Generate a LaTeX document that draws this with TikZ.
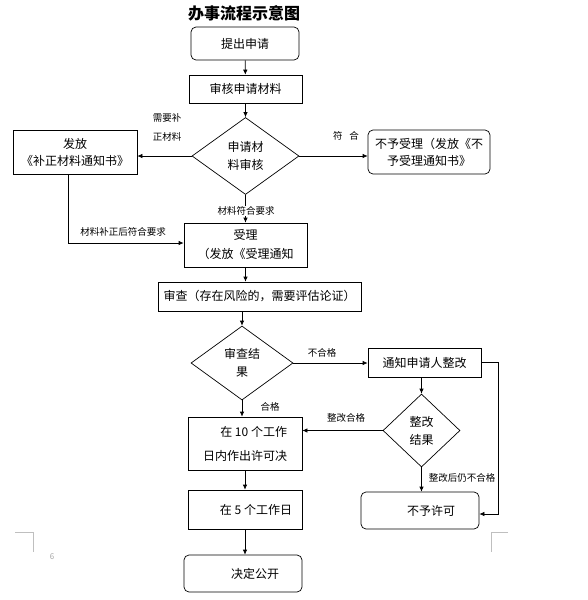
\documentclass[tikz,border=0pt]{standalone}
\usepackage{fontspec}
\setmainfont{Noto Sans CJK SC}
\usetikzlibrary{shapes.geometric, arrows.meta}

\begin{document}
\begin{tikzpicture}[x=1pt, y=-1pt,
    box/.style={draw, line width=0.7pt, align=center, inner sep=1pt, font=\fontsize{12}{18}\selectfont},
    rbox/.style={box, rounded corners=5pt},
    decision/.style={draw, diamond, line width=0.7pt, align=center, inner sep=0pt, font=\fontsize{12}{18}\selectfont},
    lbl/.style={font=\fontsize{9.5}{19}\selectfont, inner sep=0pt, align=left},
    arr/.style={-{Latex[length=5pt,width=4.5pt]}, line width=0.7pt}]
  \useasboundingbox (0,0) rectangle (588,600);
  % title
  \node[font=\fontsize{16}{18}\selectfont\bfseries] (title) at (244,13) {办事流程示意图};
  % main column
  \node[rbox, minimum width=108pt, minimum height=33pt] (apply) at (245,43.5) {提出申请};
  \node[box, minimum width=113pt, minimum height=28pt] (check) at (245.5,89) {审核申请材料};
  \node[decision, minimum width=107pt, minimum height=77pt] (audit) at (245.5,156) {申请材\\料审核};
  \node[box, minimum width=124pt, minimum height=44pt, font=\fontsize{12}{17}\selectfont] (supply) at (75,152) {发放\\《补正材料通知书》};
  \node[rbox, minimum width=122pt, minimum height=44pt, font=\fontsize{12}{17}\selectfont] (reject) at (429,152) {不予受理（发放《不\\予受理通知书》};
  \node[box, minimum width=123pt, minimum height=44pt, font=\fontsize{12}{19}\selectfont] (accept) at (245.5,245) {受理\\（发放《受理通知};
  \node[box, minimum width=203pt, minimum height=29pt] (review) at (259.5,296.5) {审查（存在风险的，需要评估论证）};
  \node[decision, minimum width=102pt, minimum height=74pt] (result) at (242,363) {审查结\\果};
  \node[box, minimum width=113pt, minimum height=29pt] (notify) at (424.5,362.5) {通知申请人整改};
  \node[decision, minimum width=77pt, minimum height=73pt] (fix) at (421.5,430.5) {整改\\结果};
  \node[box, minimum width=114pt, minimum height=53pt, align=right, font=\fontsize{12}{24}\selectfont] (decide) at (245,443.5) {在 10 个工作\\日内作出许可决};
  \node[rbox, minimum width=118pt, minimum height=37pt] (deny) at (420,510.5) {\hspace*{22pt}不予许可};
  \node[box, minimum width=114pt, minimum height=39pt] (days) at (245,509.5) {\hspace*{22pt}在 5 个工作日};
  \node[rbox, minimum width=118pt, minimum height=37pt] (public) at (243,573.5) {\hspace*{24pt}决定公开};
  % connectors
  \draw[arr] (apply) -- (check);
  \draw[arr] (check) -- (audit);
  \draw[arr] (audit.west) -- (audit.west -| supply.east);
  \draw[arr] (audit.east) -- (audit.east -| reject.west);
  \draw[arr] (audit.south) -- (accept.north);
  \draw[arr] ([xshift=-7pt]supply.south) |- ([yshift=2pt]accept.west);
  \draw[arr] (accept.south) -- (accept.south |- review.north);
  \draw[arr] (result.north |- review.south) -- (result.north);
  \draw[arr] (result.east) -- (result.east -| notify.west);
  \draw[arr] (result.south) -- (result.south |- decide.north);
  \draw[arr] (fix.north |- notify.south) -- (fix.north);
  \coordinate (turn) at (498,362.5);
  \draw[arr] (notify.east) -- (turn) |- ([yshift=-3.5pt]deny.east);
  \draw[arr] (fix.west) -- (fix.west -| decide.east);
  \draw[arr] (fix.south) -- (fix.south |- deny.north);
  \draw[arr] (decide) -- (days);
  \draw[arr] (days.south) -- (days.south |- public.north);
  % labels
  \node[lbl] (needfix) at (167,127.5) {需要补\\正材料};
  \node[lbl] (ok) at (346,136) {符\hspace{7pt}合};
  \node[lbl, fill=white, inner sep=0.5pt] (meet) at (246,211) {材料符合要求};
  \node[lbl] (meetafter) at (123,232) {材料补正后符合要求};
  \node[lbl] (fail) at (322,353) {不合格};
  \node[lbl] (pass) at (270,407) {合格};
  \node[lbl] (fixok) at (346,418) {整改合格};
  \node[lbl] (fixfail) at (462,478) {整改后仍不合格};
  % page marks
  \node[font=\fontsize{8}{9}\selectfont, text=gray!70] (page) at (52,557) {6};
  \draw[gray!50, line width=0.6pt] (15,532) -- (33,532) -- (33,552);
  \draw[gray!50, line width=0.6pt] (508,532) -- (491,532) -- (491,552);
\end{tikzpicture}
\end{document}
